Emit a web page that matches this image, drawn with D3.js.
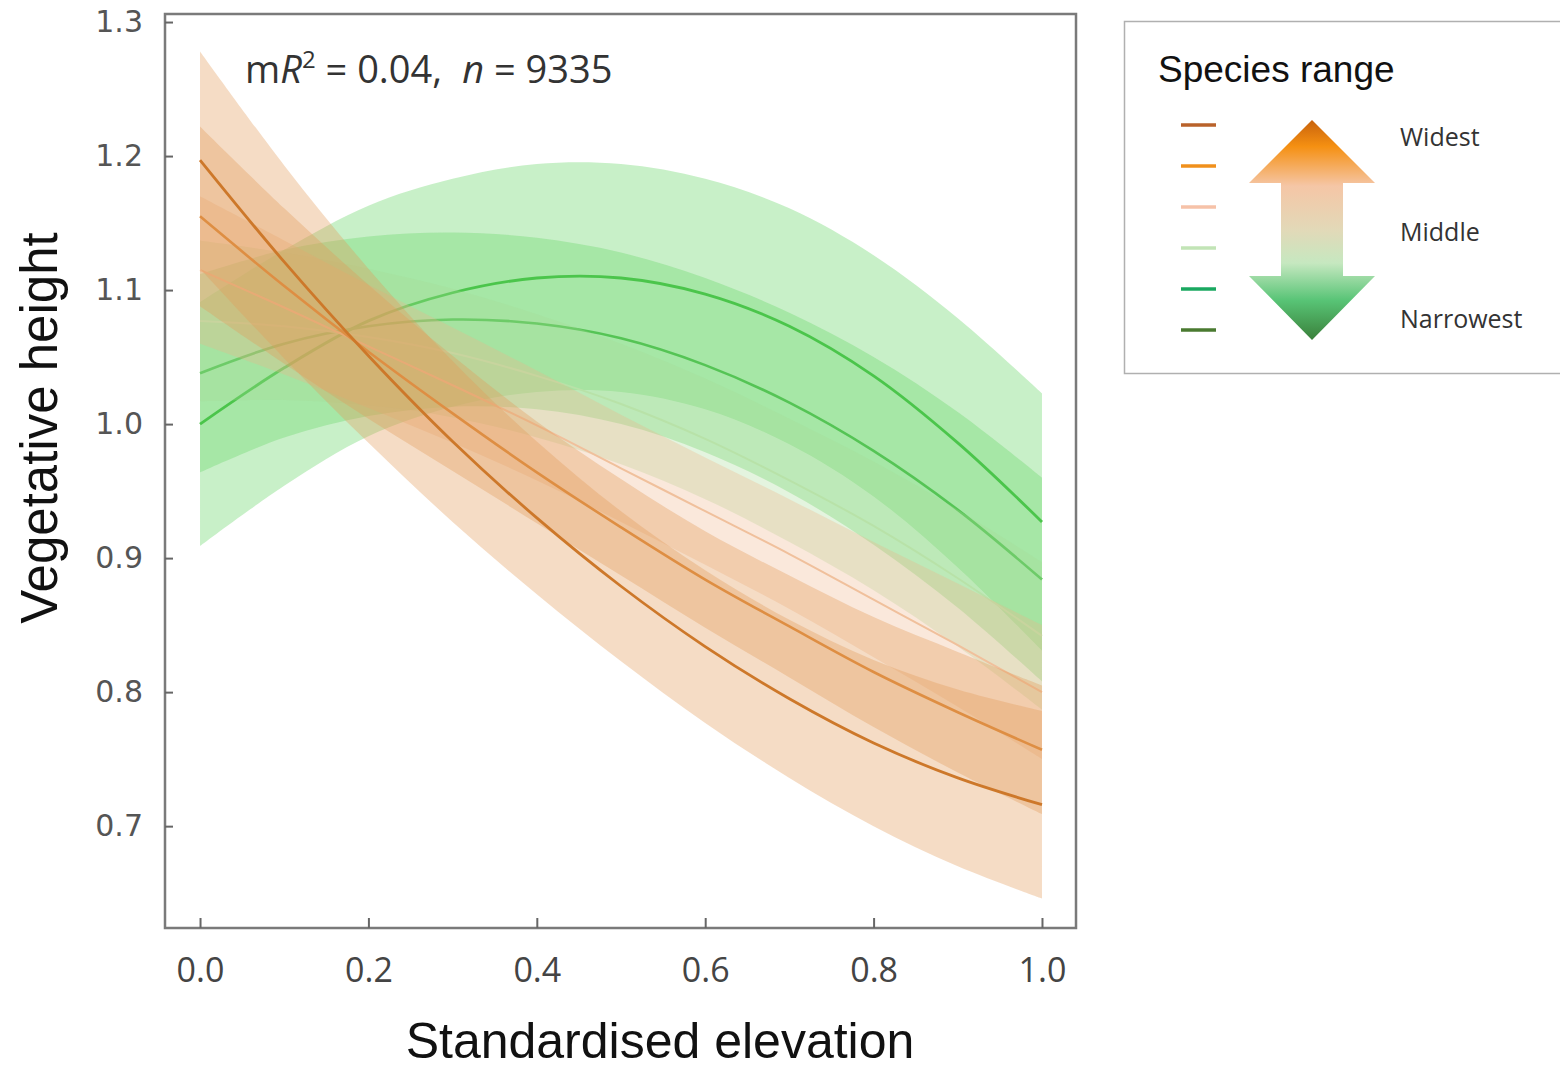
<!DOCTYPE html>
<html>
<head>
<meta charset="utf-8">
<script src="https://cdn.jsdelivr.net/npm/d3@7"></script>
<style>
  body { margin: 0; background: #fff; }
  svg { display: block; }
</style>
</head>
<body>
<div id="chart"></div>
<script>
// x positions (standardised elevation)
var elevation = [0, 0.1, 0.2, 0.3, 0.4, 0.5, 0.6, 0.7, 0.8, 0.9, 1.0];

// fitted vegetative height per species-range group (widest -> narrowest)
var fitWidest     = [1.197, 1.121, 1.051, 0.987, 0.930, 0.879, 0.834, 0.795, 0.762, 0.736, 0.716];
var fitWide       = [1.155, 1.103, 1.054, 1.008, 0.964, 0.923, 0.884, 0.849, 0.815, 0.785, 0.757];
var fitMidWide    = [1.115, 1.087, 1.058, 1.029, 0.999, 0.967, 0.935, 0.903, 0.869, 0.835, 0.800];
var fitMidNarrow  = [1.077, 1.073, 1.065, 1.053, 1.036, 1.015, 0.989, 0.958, 0.924, 0.885, 0.842];
var fitNarrow     = [1.038, 1.060, 1.073, 1.078, 1.075, 1.064, 1.044, 1.016, 0.980, 0.936, 0.884];
var fitNarrowest  = [1.000, 1.042, 1.077, 1.098, 1.109, 1.109, 1.097, 1.073, 1.036, 0.986, 0.927];

// half width of the confidence ribbons
var ciWidest     = [0.081, 0.072, 0.065, 0.060, 0.057, 0.056, 0.057, 0.059, 0.062, 0.066, 0.070];
var ciWide       = [0.067, 0.058, 0.050, 0.043, 0.038, 0.036, 0.036, 0.038, 0.041, 0.045, 0.048];
var ciMidWide    = [0.055, 0.050, 0.046, 0.043, 0.041, 0.040, 0.040, 0.041, 0.043, 0.046, 0.050];
var ciMidNarrow  = [0.060, 0.055, 0.051, 0.048, 0.046, 0.045, 0.045, 0.046, 0.048, 0.051, 0.055];
var ciNarrow     = [0.074, 0.070, 0.067, 0.065, 0.064, 0.064, 0.065, 0.067, 0.070, 0.073, 0.076];
var ciNarrowest  = [0.091, 0.088, 0.086, 0.085, 0.085, 0.085, 0.086, 0.088, 0.090, 0.093, 0.096];

var yTicks = [0.7, 0.8, 0.9, 1.0, 1.1, 1.2, 1.3];
var xTicks = [0, 0.2, 0.4, 0.6, 0.8, 1.0];
var arrowLabels = ['Widest', 'Middle', 'Narrowest'];

// 描画サイズ
var width = 1560;
var height = 1071;
var plot = {left: 165, top: 14, right: 1076, bottom: 928};

// series, drawn narrowest first so the orange ribbons sit on top
var series = [
  {fit: fitNarrowest, ci: ciNarrowest, band: '#6ed86e', bandOp: 0.38, line: '#36ba36', lw: 2.8},
  {fit: fitNarrow, ci: ciNarrow, band: '#6ed86e', bandOp: 0.38, line: '#55c455', lw: 2.6},
  {fit: fitMidNarrow, ci: ciMidNarrow, band: '#a6dc96', bandOp: 0.3, line: '#b8e2a8', lw: 2},
  {fit: fitMidWide, ci: ciMidWide, band: '#efb388', bandOp: 0.3, line: '#f0c09c', lw: 2},
  {fit: fitWide, ci: ciWide, band: '#e39a5a', bandOp: 0.35, line: '#dc8838', lw: 2.6},
  {fit: fitWidest, ci: ciWidest, band: '#e39a5a', bandOp: 0.35, line: '#cd782a', lw: 2.8}
];

var legendColors = ['#b9622a', '#f0901c', '#f6c2a8', '#c2e4b6', '#1aa860', '#4a7a30'];

var svg = d3.select('#chart').append('svg')
  .attr('width', width).attr('height', height);

var x = d3.scaleLinear()
  .domain([-0.0416, 1.0404])
  .range([plot.left, plot.right]);
var y = d3.scaleLinear()
  .domain([0.624, 1.306])
  .range([plot.bottom, plot.top]);

var gSeries = svg.append('g');

series.forEach(function(s) {
  var pts = elevation.map(function(e, i) {
    return {x: e, fit: s.fit[i], lo: s.fit[i] - s.ci[i], hi: s.fit[i] + s.ci[i]};
  });
  var area = d3.area()
    .x(function(d) { return x(d.x); })
    .y0(function(d) { return y(d.lo); })
    .y1(function(d) { return y(d.hi); })
    .curve(d3.curveCatmullRom);
  var line = d3.line()
    .x(function(d) { return x(d.x); })
    .y(function(d) { return y(d.fit); })
    .curve(d3.curveCatmullRom);

  gSeries.append('path')
    .attr('d', area(pts))
    .attr('fill', s.band)
    .attr('fill-opacity', s.bandOp);
  gSeries.append('path')
    .attr('d', line(pts))
    .attr('fill', 'none')
    .attr('stroke', s.line)
    .attr('stroke-width', s.lw);
});

// 枠
svg.append('rect')
  .attr('x', plot.left).attr('y', plot.top)
  .attr('width', plot.right - plot.left)
  .attr('height', plot.bottom - plot.top)
  .attr('fill', 'none')
  .attr('stroke', '#7a7a7a')
  .attr('stroke-width', 2.5);

// 軸
var yAxis = svg.append('g')
  .attr('transform', 'translate(' + plot.left + ',0)')
  .call(d3.axisLeft(y).tickValues(yTicks).tickSize(-8).tickPadding(22)
    .tickFormat(d3.format('.1f')));
yAxis.select('.domain').remove();
yAxis.selectAll('line').attr('stroke', '#666').attr('stroke-width', 2);
yAxis.selectAll('text')
  .attr('font-family', 'DejaVu Sans')
  .attr('font-size', 30)
  .attr('fill', '#555');

var xAxis = svg.append('g')
  .attr('transform', 'translate(0,' + plot.bottom + ')')
  .call(d3.axisBottom(x).tickValues(xTicks).tickSize(-10).tickPadding(30)
    .tickFormat(d3.format('.1f')));
xAxis.select('.domain').remove();
xAxis.selectAll('line').attr('stroke', '#666').attr('stroke-width', 2);
xAxis.selectAll('text')
  .attr('font-family', 'Open Sans')
  .attr('font-size', 34)
  .attr('fill', '#444');

// 軸タイトル
svg.append('text')
  .attr('x', 660).attr('y', 1058)
  .attr('text-anchor', 'middle')
  .attr('font-family', 'Liberation Sans')
  .attr('font-size', 50)
  .attr('fill', '#111')
  .text('Standardised elevation');

svg.append('text')
  .attr('transform', 'translate(57,428) rotate(-90)')
  .attr('text-anchor', 'middle')
  .attr('font-family', 'Liberation Sans')
  .attr('font-size', 51)
  .attr('fill', '#111')
  .text('Vegetative height');

// 注記
var note = svg.append('text')
  .attr('x', 245).attr('y', 83)
  .attr('font-family', 'Open Sans')
  .attr('font-size', 38)
  .attr('fill', '#333');
note.append('tspan').text('m');
note.append('tspan').attr('font-style', 'italic').text('R');
note.append('tspan').attr('font-size', 24).attr('dy', -15).text('2');
note.append('tspan').attr('dy', 15).text(' = 0.04,');
note.append('tspan').attr('font-style', 'italic').attr('dx', 20).text('n');
note.append('tspan').text(' = 9335');

// 凡例
var leg = svg.append('g');
leg.append('rect')
  .attr('x', 1124.5).attr('y', 21.5)
  .attr('width', 450).attr('height', 352)
  .attr('fill', '#fff')
  .attr('stroke', '#b0b0b0')
  .attr('stroke-width', 1.5);

leg.append('text')
  .attr('x', 1158).attr('y', 82)
  .attr('font-family', 'Liberation Sans')
  .attr('font-size', 37)
  .attr('fill', '#111')
  .text('Species range');

leg.selectAll('.swatch').data(legendColors).enter()
  .append('line')
  .attr('class', 'swatch')
  .attr('x1', 1181).attr('x2', 1216)
  .attr('y1', function(d, i) { return 125 + i * 41; })
  .attr('y2', function(d, i) { return 125 + i * 41; })
  .attr('stroke', function(d) { return d; })
  .attr('stroke-width', 3.5);

var defs = svg.append('defs');
var grad = defs.append('linearGradient')
  .attr('id', 'arrowGrad')
  .attr('x1', 0).attr('y1', 0).attr('x2', 0).attr('y2', 1);
[
  [0, '#c8620c'], [0.12, '#f59012'], [0.3, '#f5c6a6'],
  [0.5, '#e2d9b8'], [0.65, '#c6e8c0'], [0.82, '#58c476'], [1, '#3a803a']
].forEach(function(s) {
  grad.append('stop').attr('offset', s[0]).attr('stop-color', s[1]);
});

var ax = 1312;
var arrowPath = [
  [ax, 120], [ax + 63, 183], [ax + 31, 183], [ax + 31, 276], [ax + 63, 276],
  [ax, 340], [ax - 63, 276], [ax - 31, 276], [ax - 31, 183], [ax - 63, 183]
];
leg.append('path')
  .attr('d', d3.line()(arrowPath) + 'Z')
  .attr('fill', 'url(#arrowGrad)');

leg.selectAll('.arrow-label').data(arrowLabels).enter()
  .append('text')
  .attr('class', 'arrow-label')
  .attr('x', 1400)
  .attr('y', function(d, i) { return [146, 241, 328][i]; })
  .attr('font-family', 'Open Sans')
  .attr('font-size', 25)
  .attr('fill', '#333')
  .text(function(d) { return d; });
</script>
</body>
</html>
